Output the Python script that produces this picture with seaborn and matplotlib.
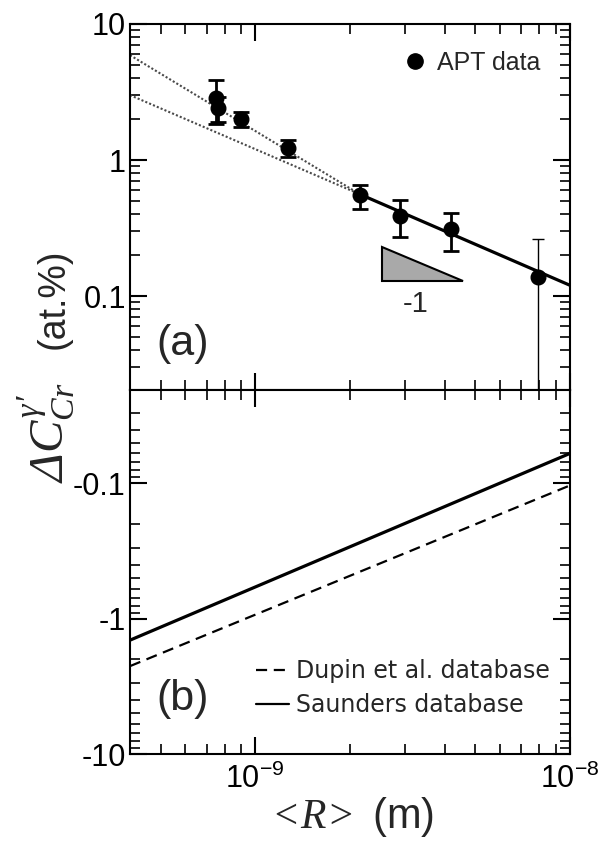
import matplotlib
matplotlib.use('Agg')
import matplotlib.pyplot as plt
import seaborn as sns
from matplotlib.ticker import (LogLocator, FuncFormatter, NullFormatter,
                               LogFormatterSciNotation, FixedLocator)
from matplotlib.lines import Line2D

# ---------------- data ----------------
apt_R = [7.5e-10, 7.6e-10, 9.0e-10, 1.27e-9, 2.15e-9, 2.88e-9, 4.18e-9]
apt_dC = [2.85, 2.4, 2.0, 1.23, 0.55, 0.39, 0.31]
apt_err = [1.0, 0.5, 0.26, 0.17, 0.11, 0.12, 0.095]
last_R = [7.9e-9]
last_dC = [0.137]
last_err = [0.125]

fit_steep_R = [4.0e-10, 2.15e-9]
fit_steep_dC = [5.9, 0.56]
fit_slope1_R = [4.0e-10, 2.15e-9]
fit_slope1_dC = [3.0, 0.56]
fit_solid_R = [2.15e-9, 1.0e-8]
fit_solid_dC = [0.56, 0.12]

tri_R = [2.52e-9, 2.52e-9, 4.56e-9]
tri_dC = [0.23, 0.129, 0.129]

calc_R = [4.0e-10, 1.0e-8]
dupin_dC = [-2.24, -0.1035]
saunders_dC = [-1.44, -0.060]

x_major_ticks = [1e-9, 1e-8]
y_top_ticks = [0.1, 1, 10]
y_bot_ticks = [0.1, 1, 10]   # shown as -0.1, -1, -10

# ---------------- style ----------------
sns.set_style('ticks')
plt.rcParams['font.family'] = ['Liberation Sans', 'DejaVu Sans']
plt.rcParams['mathtext.fontset'] = 'custom'
plt.rcParams['mathtext.rm'] = 'Liberation Serif:italic'
plt.rcParams['mathtext.it'] = 'Liberation Serif:italic'
plt.rcParams['axes.unicode_minus'] = False
plt.rcParams['axes.linewidth'] = 1.5

fig = plt.figure(figsize=(6, 8.48), dpi=100)
ax1 = fig.add_axes([0.2167, 0.5401, 0.7333, 0.4316])
ax2 = fig.add_axes([0.2167, 0.1108, 0.7333, 0.4293], sharex=ax1)

for ax in (ax1, ax2):
    ax.set_xscale('log')
    ax.set_yscale('log')
    ax.tick_params(which='both', direction='in', top=True, right=True,
                   labelsize=22, colors='black')
    ax.tick_params(which='major', length=12, width=1.5, pad=3)
    ax.tick_params(which='minor', length=7, width=1.2)
    ax.xaxis.set_minor_locator(LogLocator(base=10, subs=range(2, 10)))
    ax.yaxis.set_minor_locator(LogLocator(base=10, subs=range(2, 10)))
    ax.yaxis.set_minor_formatter(NullFormatter())
    ax.xaxis.set_minor_formatter(NullFormatter())
    ax.xaxis.set_major_locator(FixedLocator(x_major_ticks))
    for s in ax.spines.values():
        s.set_color('black')

# ---------------- panel (a) ----------------
sns.lineplot(x=fit_steep_R, y=fit_steep_dC, ax=ax1, color='#4a4a4a',
             lw=1.5, linestyle=(0, (1, 1)), sort=False)
sns.lineplot(x=fit_slope1_R, y=fit_slope1_dC, ax=ax1, color='#4a4a4a',
             lw=1.5, linestyle=(0, (1, 1)), sort=False)
sns.lineplot(x=fit_solid_R, y=fit_solid_dC, ax=ax1, color='black', lw=2.3, sort=False)

ax1.fill(tri_R, tri_dC, facecolor='#a9a9a9', edgecolor='black', lw=1.5, zorder=3)

ax1.errorbar(apt_R, apt_dC, yerr=apt_err, fmt='o', color='black', ms=10.5,
             elinewidth=2, capsize=6, capthick=2, zorder=4)
ax1.errorbar(last_R, last_dC, yerr=last_err, fmt='o', color='black', ms=10.5,
             elinewidth=1, capsize=4, capthick=1, zorder=4)

ax1.set_xlim(4.0e-10, 1.0e-8)
ax1.set_ylim(0.0204, 10)
ax1.yaxis.set_major_locator(FixedLocator(y_top_ticks))
ax1.yaxis.set_major_formatter(FuncFormatter(lambda v, _: f'{v:g}'))
ax1.tick_params(axis='x', labelbottom=False)

h_apt = Line2D([], [], marker='o', ls='none', color='black', ms=11)
ax1.legend([h_apt], ['APT data'], loc='center left', bbox_to_anchor=(0.62, 0.893),
           frameon=False, fontsize=18, handlelength=1.0, handletextpad=0.35,
           borderpad=0, borderaxespad=0)

ax1.text(0.12, 0.125, '(a)', transform=ax1.transAxes, fontsize=31,
         ha='center', va='center')
ax1.text(0.648, 0.235, '-1', transform=ax1.transAxes, fontsize=21,
         ha='center', va='center')

# ---------------- panel (b) ----------------
sns.lineplot(x=calc_R, y=[-v for v in dupin_dC], ax=ax2, color='black', lw=1.6,
             linestyle=(0, (5, 3)), sort=False)
sns.lineplot(x=calc_R, y=[-v for v in saunders_dC], ax=ax2, color='black', lw=2.3,
             sort=False)

ax2.set_ylim(10, 0.0204)
ax2.yaxis.set_major_locator(FixedLocator(y_bot_ticks))
ax2.yaxis.set_major_formatter(FuncFormatter(lambda v, _: f'-{v:g}'))
ax2.xaxis.set_major_formatter(LogFormatterSciNotation())
ax2.tick_params(axis='x', labelsize=22, pad=7)

hd = Line2D([], [], color='black', lw=1.6, linestyle=(0, (5, 3)))
hs = Line2D([], [], color='black', lw=1.6)
ax2.legend([hd, hs], ['Dupin et al. database', 'Saunders database'],
           loc='center left', bbox_to_anchor=(0.286, 0.181), frameon=False,
           prop={'family': 'DejaVu Sans', 'size': 17}, handlelength=1.4,
           handletextpad=0.3, labelspacing=0.45, borderpad=0, borderaxespad=0)

ax2.text(0.12, 0.151, '(b)', transform=ax2.transAxes, fontsize=31,
         ha='center', va='center')

# ---------------- axis titles ----------------
fig.text(0.077, 0.49, r'$\Delta C_{Cr}^{\gamma\prime}$',
         rotation=90, fontsize=35, ha='center', va='center')
fig.text(0.09, 0.648, '(at.%)', rotation=90, fontsize=27, ha='center', va='center')
fig.text(0.583, 0.037, r'$<\!R\!>$ (m)', fontsize=30, ha='center', va='center')

fig.savefig('out.png', dpi=100)
